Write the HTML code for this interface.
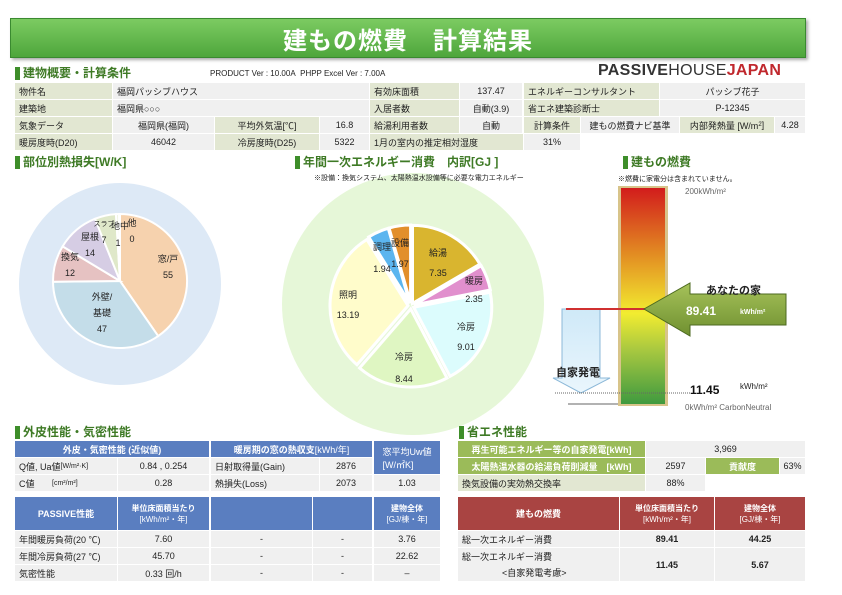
<!DOCTYPE html>
<html><head><meta charset="utf-8"><style>
*{margin:0;padding:0;box-sizing:border-box}
body{width:842px;height:595px;background:#fff;position:relative;overflow:hidden;font-family:"Liberation Sans","Noto Sans CJK JP",sans-serif;color:#222;font-size:9px}
.a{position:absolute}
.c{position:absolute;display:flex;align-items:center;justify-content:center;font-size:9px;white-space:nowrap}
.l{justify-content:flex-start;padding-left:4px}
.g{background:#e2e7d2}
.v{background:#f0f0f0}
.b{background:#5a7ec0;color:#fff;font-weight:bold}
.r{background:#a94442;color:#fff;font-weight:bold}
.gg{background:#9bbb59;color:#fff;font-weight:bold}
.h{position:absolute;font-weight:bold;color:#3e7a25;font-size:12px;border-left:5px solid #3e8e2a;padding-left:3px;line-height:13px;z-index:2}
.n{z-index:2}
</style></head><body>
<div class="a" style="left:10px;top:18px;width:796px;height:40px;background:linear-gradient(#7ccb62,#4ea63c);border:1px solid #3a8a30;box-shadow:2px 2px 3px #aaa;color:#fff;font-size:24px;font-weight:bold;display:flex;align-items:center;justify-content:center;letter-spacing:1px">建もの燃費　計算結果</div>

<div class="h" style="left:15px;top:67px">建物概要・計算条件</div>
<div class="a" style="left:210px;top:69px;font-size:8px">PRODUCT Ver : 10.00A&nbsp; PHPP Excel Ver : 7.00A</div>
<div class="a" style="left:598px;top:62px;font-size:16px;font-weight:bold;color:#333;letter-spacing:0.3px">PASSIVE<span style="font-weight:normal">HOUSE</span><span style="color:#c0282d">JAPAN</span></div>

<div class="c l g" style="left:15px;top:83px;width:97px;height:16px">物件名</div>
<div class="c l v" style="left:113px;top:83px;width:256px;height:16px">福岡パッシブハウス</div>
<div class="c l g" style="left:370px;top:83px;width:89px;height:16px">有効床面積</div>
<div class="c v" style="left:460px;top:83px;width:62px;height:16px">137.47</div>
<div class="c l g" style="left:524px;top:83px;width:135px;height:16px">エネルギーコンサルタント</div>
<div class="c v" style="left:660px;top:83px;width:145px;height:16px">パッシブ花子</div>

<div class="c l g" style="left:15px;top:100px;width:97px;height:16px">建築地</div>
<div class="c l v" style="left:113px;top:100px;width:256px;height:16px">福岡県○○○</div>
<div class="c l g" style="left:370px;top:100px;width:89px;height:16px">入居者数</div>
<div class="c v" style="left:460px;top:100px;width:62px;height:16px">自動(3.9)</div>
<div class="c l g" style="left:524px;top:100px;width:135px;height:16px">省エネ建築診断士</div>
<div class="c v" style="left:660px;top:100px;width:145px;height:16px">P-12345</div>

<div class="c l g" style="left:15px;top:117px;width:97px;height:16px">気象データ</div>
<div class="c v" style="left:113px;top:117px;width:101px;height:16px">福岡県(福岡)</div>
<div class="c g" style="left:215px;top:117px;width:104px;height:16px">平均外気温[℃]</div>
<div class="c v" style="left:320px;top:117px;width:49px;height:16px">16.8</div>
<div class="c l g" style="left:370px;top:117px;width:89px;height:16px">給湯利用者数</div>
<div class="c v" style="left:460px;top:117px;width:62px;height:16px">自動</div>
<div class="c g" style="left:524px;top:117px;width:56px;height:16px">計算条件</div>
<div class="c v" style="left:581px;top:117px;width:98px;height:16px">建もの燃費ナビ基準</div>
<div class="c g" style="left:680px;top:117px;width:94px;height:16px">内部発熱量 [W/m<sup style="font-size:6px">2</sup>]</div>
<div class="c v" style="left:775px;top:117px;width:30px;height:16px">4.28</div>

<div class="c l g" style="left:15px;top:134px;width:97px;height:16px">暖房度時(D20)</div>
<div class="c v" style="left:113px;top:134px;width:101px;height:16px">46042</div>
<div class="c g" style="left:215px;top:134px;width:104px;height:16px">冷房度時(D25)</div>
<div class="c v" style="left:320px;top:134px;width:49px;height:16px">5322</div>
<div class="c l g" style="left:370px;top:134px;width:153px;height:16px">1月の室内の推定相対湿度</div>
<div class="c v" style="left:524px;top:134px;width:56px;height:16px">31%</div>

<div class="h" style="left:15px;top:156px">部位別熱損失[W/K]</div>
<div class="h" style="left:295px;top:156px">年間一次エネルギー消費　内訳[GJ ]</div>
<div class="a n" style="left:314px;top:173px;font-size:7px">※設備：換気システム、太陽熱温水設備等に必要な電力エネルギー</div>
<div class="h" style="left:623px;top:156px">建もの燃費</div>
<div class="a n" style="left:618px;top:174px;font-size:7px">※燃費に家電分は含まれていません。</div>

<svg class="a" style="left:0;top:0;z-index:1" width="842" height="595">
<circle cx="120" cy="284" r="101" fill="#dde9f6"/>
<circle cx="413" cy="304" r="131" fill="#e6f7d8"/>
<g id="L" stroke="#fff" stroke-width="2"></g>
<g id="R" stroke="#fff" stroke-width="3"></g>
<g font-size="9" text-anchor="middle" fill="#222" font-family="Liberation Sans,Noto Sans CJK JP,sans-serif">
<text x="168" y="262">窓/戸</text><text x="168" y="278">55</text>
<text x="102" y="300">外壁/</text><text x="102" y="316">基礎</text><text x="102" y="332">47</text>
<text x="70" y="260">換気</text><text x="70" y="276">12</text>
<text x="90" y="240">屋根</text><text x="90" y="256">14</text>
<text x="104" y="226" font-size="7">スラブ</text><text x="104" y="243">7</text>
<text x="120" y="229">地中</text><text x="118" y="246">1</text>
<text x="132" y="226">他</text><text x="132" y="242">0</text>
<text x="438" y="256">給湯</text><text x="438" y="276">7.35</text>
<text x="474" y="284">暖房</text><text x="474" y="302">2.35</text>
<text x="466" y="330">冷房</text><text x="466" y="350">9.01</text>
<text x="404" y="360">冷房</text><text x="404" y="382">8.44</text>
<text x="348" y="298">照明</text><text x="348" y="318">13.19</text>
<text x="382" y="250">調理</text><text x="382" y="272">1.94</text>
<text x="400" y="246">設備</text><text x="400" y="267">1.97</text>
</g>
<defs><linearGradient id="gr" x1="0" y1="0" x2="0" y2="1">
<stop offset="0" stop-color="#d21c1c"/><stop offset="0.3" stop-color="#e28a22"/><stop offset="0.58" stop-color="#f2ec30"/><stop offset="0.75" stop-color="#a8c840"/><stop offset="1" stop-color="#3f9a3f"/></linearGradient>
<linearGradient id="ag" x1="0" y1="0" x2="0" y2="1"><stop offset="0" stop-color="#a6c25a"/><stop offset="1" stop-color="#6f9030"/></linearGradient>
<linearGradient id="bg2" x1="0" y1="0" x2="0" y2="1"><stop offset="0" stop-color="#cfe9f8"/><stop offset="1" stop-color="#eaf6fd"/></linearGradient></defs>
<rect x="618" y="186" width="50" height="220" fill="#d8c48a"/>
<rect x="621" y="188" width="44" height="216" fill="url(#gr)"/>
<path d="M562 309 H600 V378 H610 L581 393 L553 378 H562 Z" fill="url(#bg2)" stroke="#8cb8d8" stroke-width="1"/>
<line x1="566" y1="309" x2="646" y2="309" stroke="#d03030" stroke-width="2"/>
<path d="M644 309 L690 283 V294 H786 V325 H690 V336 Z" fill="url(#ag)" stroke="#4c6a20" stroke-width="1"/>
<line x1="555" y1="393" x2="690" y2="393" stroke="#666" stroke-dasharray="1,1"/>
<line x1="568" y1="404" x2="618" y2="404" stroke="#666"/>
<g font-family="Liberation Sans,Noto Sans CJK JP,sans-serif">
<text x="706" y="294" font-size="11" font-weight="bold" fill="#222">あなたの家</text>
<text x="686" y="315" font-size="12" font-weight="bold" fill="#fff">89.41</text>
<text x="740" y="314" font-size="7" font-weight="bold" fill="#fff">kWh/m²</text>
<text x="556" y="376" font-size="11" font-weight="bold" fill="#222">自家発電</text>
<text x="690" y="394" font-size="12" font-weight="bold" fill="#111">11.45</text>
<text x="740" y="389" font-size="8" fill="#222">kWh/m²</text>
<text x="685" y="410" font-size="8" fill="#666">0kWh/m² CarbonNeutral</text>
<text x="685" y="194" font-size="8" fill="#666">200kWh/m²</text>
</g>
</svg>

<div class="h" style="left:15px;top:426px">外皮性能・気密性能</div>
<div class="h" style="left:459px;top:426px">省エネ性能</div>

<div class="c b" style="left:15px;top:441px;width:194px;height:16px">外皮・気密性能 (近似値)</div>
<div class="c b" style="left:211px;top:441px;width:161px;height:16px">暖房期の窓の熱収支 <span style="font-weight:normal">[kWh/年]</span></div>
<div class="c b" style="left:374px;top:441px;width:66px;height:33px;flex-direction:column;font-weight:normal">窓平均Uw値<br>[W/㎡K]</div>
<div class="c l v" style="left:15px;top:458px;width:102px;height:16px">Q値, Ua値 <span style="font-size:7px">[W/m²·K]</span></div>
<div class="c v" style="left:118px;top:458px;width:91px;height:16px">0.84 , 0.254</div>
<div class="c l v" style="left:211px;top:458px;width:108px;height:16px">日射取得量(Gain)</div>
<div class="c v" style="left:320px;top:458px;width:52px;height:16px">2876</div>
<div class="c l v" style="left:15px;top:475px;width:102px;height:16px">C値 &nbsp;&nbsp;&nbsp;&nbsp;&nbsp;&nbsp;<span style="font-size:7px">[cm²/m²]</span></div>
<div class="c v" style="left:118px;top:475px;width:91px;height:16px">0.28</div>
<div class="c l v" style="left:211px;top:475px;width:108px;height:16px">熱損失(Loss)</div>
<div class="c v" style="left:320px;top:475px;width:52px;height:16px">2073</div>
<div class="c v" style="left:374px;top:475px;width:66px;height:16px">1.03</div>

<div class="c b" style="left:15px;top:497px;width:102px;height:33px">PASSIVE性能</div>
<div class="c b" style="left:118px;top:497px;width:91px;height:33px;flex-direction:column;font-size:8px">単位床面積当たり<br><span style="font-weight:normal">[kWh/m²・年]</span></div>
<div class="c b" style="left:211px;top:497px;width:101px;height:33px"></div>
<div class="c b" style="left:313px;top:497px;width:59px;height:33px"></div>
<div class="c b" style="left:374px;top:497px;width:66px;height:33px;flex-direction:column;font-size:8px">建物全体<br><span style="font-weight:normal">[GJ/棟・年]</span></div>
<div class="c l v" style="left:15px;top:531px;width:102px;height:16px">年間暖房負荷(20 ℃)</div>
<div class="c v" style="left:118px;top:531px;width:91px;height:16px">7.60</div>
<div class="c v" style="left:211px;top:531px;width:101px;height:16px">-</div>
<div class="c v" style="left:313px;top:531px;width:59px;height:16px">-</div>
<div class="c v" style="left:374px;top:531px;width:66px;height:16px">3.76</div>
<div class="c l v" style="left:15px;top:548px;width:102px;height:16px">年間冷房負荷(27 ℃)</div>
<div class="c v" style="left:118px;top:548px;width:91px;height:16px">45.70</div>
<div class="c v" style="left:211px;top:548px;width:101px;height:16px">-</div>
<div class="c v" style="left:313px;top:548px;width:59px;height:16px">-</div>
<div class="c v" style="left:374px;top:548px;width:66px;height:16px">22.62</div>
<div class="c l v" style="left:15px;top:565px;width:102px;height:16px">気密性能</div>
<div class="c v" style="left:118px;top:565px;width:91px;height:16px">0.33 回/h</div>
<div class="c v" style="left:211px;top:565px;width:101px;height:16px">-</div>
<div class="c v" style="left:313px;top:565px;width:59px;height:16px">-</div>
<div class="c v" style="left:374px;top:565px;width:66px;height:16px">–</div>

<div class="c gg" style="left:458px;top:441px;width:187px;height:16px">再生可能エネルギー等の自家発電[kWh]</div>
<div class="c v" style="left:646px;top:441px;width:159px;height:16px">3,969</div>
<div class="c gg" style="left:458px;top:458px;width:187px;height:16px">太陽熱温水器の給湯負荷削減量　[kWh]</div>
<div class="c v" style="left:646px;top:458px;width:59px;height:16px">2597</div>
<div class="c gg" style="left:706px;top:458px;width:73px;height:16px">貢献度</div>
<div class="c v" style="left:780px;top:458px;width:25px;height:16px">63%</div>
<div class="c l g" style="left:458px;top:475px;width:187px;height:16px">換気設備の実効熱交換率</div>
<div class="c v" style="left:646px;top:475px;width:59px;height:16px">88%</div>

<div class="c r" style="left:458px;top:497px;width:161px;height:33px">建もの燃費</div>
<div class="c r" style="left:620px;top:497px;width:94px;height:33px;flex-direction:column;font-size:8px">単位床面積当たり<br><span style="font-weight:normal">[kWh/m²・年]</span></div>
<div class="c r" style="left:715px;top:497px;width:90px;height:33px;flex-direction:column;font-size:8px">建物全体<br><span style="font-weight:normal">[GJ/棟・年]</span></div>
<div class="c l v" style="left:458px;top:531px;width:161px;height:16px">総一次エネルギー消費</div>
<div class="c v" style="left:620px;top:531px;width:94px;height:16px;font-weight:bold">89.41</div>
<div class="c v" style="left:715px;top:531px;width:90px;height:16px;font-weight:bold">44.25</div>
<div class="c v" style="left:458px;top:548px;width:161px;height:33px;flex-direction:column;align-items:flex-start;padding-left:4px;line-height:16px">総一次エネルギー消費<br><span style="padding-left:40px">&lt;自家発電考慮&gt;</span></div>
<div class="c v" style="left:620px;top:548px;width:94px;height:33px;font-weight:bold">11.45</div>
<div class="c v" style="left:715px;top:548px;width:90px;height:33px;font-weight:bold">5.67</div>

<script>
function pie(g,cx,cy,r,vals,cols,ex){
 var t=vals.reduce((a,b)=>a+b,0),a=-Math.PI/2,s='';
 vals.forEach((v,i)=>{var b=a+v/t*2*Math.PI,m=(a+b)/2,dx=Math.cos(m)*ex,dy=Math.sin(m)*ex;
  var x1=cx+dx+r*Math.cos(a),y1=cy+dy+r*Math.sin(a),x2=cx+dx+r*Math.cos(b),y2=cy+dy+r*Math.sin(b);
  if(v>0)s+='<path d="M'+(cx+dx)+' '+(cy+dy)+' L'+x1+' '+y1+' A'+r+' '+r+' 0 '+((b-a)>Math.PI?1:0)+' 1 '+x2+' '+y2+' Z" fill="'+cols[i]+'"/>';a=b;});
 document.getElementById(g).innerHTML=s;}
pie('L',120,281,67,[55,47,12,14,7,1,0.3],['#f6d2ae','#c4dde9','#e6c2c2','#d6cde4','#dfe8c9','#eef2e0','#fff'],0);
pie('R',411,306,78,[7.35,2.35,9.01,8.44,13.19,1.94,1.97],['#d9b52f','#e18fcd','#dcfcfd','#dff6c2','#fffccb','#5bb5ef','#e28f2b'],3);
</script>
</body></html>
